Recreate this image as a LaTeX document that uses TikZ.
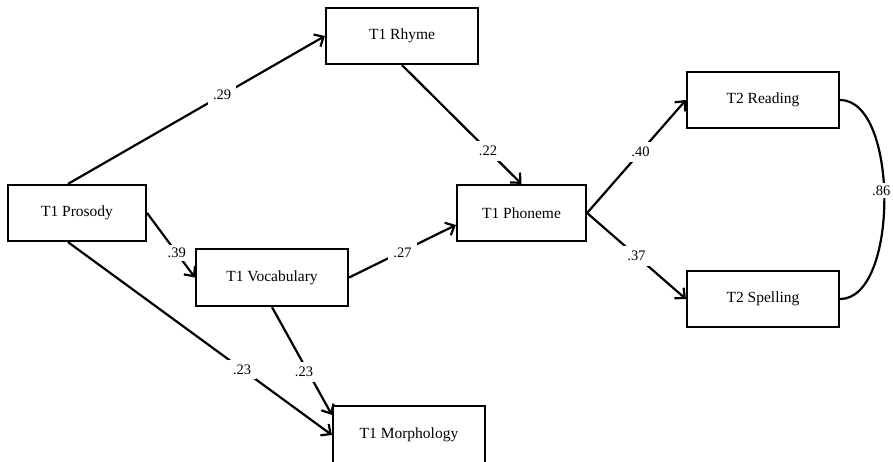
\documentclass[tikz,border=0pt]{standalone}
\usepackage{fontspec}
\setmainfont{Liberation Serif}
\usetikzlibrary{arrows.meta}
\begin{document}
\begin{tikzpicture}[x=1pt,y=-1pt,
  var/.style={draw, line width=2.2pt, minimum width=152pt, minimum height=56pt, inner sep=0pt, font=\fontsize{15.5}{18}\selectfont},
  path/.style={line width=2.2pt, -{Straight Barb[length=7.5pt,width=14pt,line width=2.2pt]}},
  coef/.style={fill=white, inner sep=5pt, font=\fontsize{14.5}{17}\selectfont}]
\useasboundingbox (0,0) rectangle (893,461);
\clip (0,0) rectangle (893,461);
\node[var] (rhyme) at (402,36) {T1 Rhyme};
\node[var, minimum width=138pt] (prosody) at (77,213) {T1 Prosody};
\node[var, minimum height=57pt] (vocab) at (272,277.5) {T1 Vocabulary};
\node[var, minimum width=129pt] (phoneme) at (521.5,213) {T1 Phoneme};
\node[var, minimum height=58pt] (morph) at (409,435) {T1 Morphology};
\node[var] (reading) at (763,100) {T2 Reading};
\node[var] (spelling) at (763,299) {T2 Spelling};

\draw[path] ([xshift=-9pt]prosody.north) -- node[coef, pos=0.6] {.29} (rhyme.west);
\draw[path] (rhyme.south) -- node[coef, pos=0.72] {.22} (phoneme.north);
\draw[path] (prosody.east) -- node[coef, pos=0.62, inner sep=3pt] {.39} (vocab.west);
\draw[path] (vocab.east) -- node[coef, pos=0.5, yshift=-2pt] {.27} ([yshift=-12pt]phoneme.west);
\draw[path] (phoneme.east) -- node[coef, pos=0.54] {.40} (reading.west);
\draw[path] (phoneme.east) -- node[coef, pos=0.5] {.37} (spelling.west);
\draw[path] ([xshift=-9pt]prosody.south) -- node[coef, pos=0.66] {.23} (morph.west);
\draw[path] (vocab.south) -- node[coef, pos=0.6, xshift=-4pt] {.23} ([yshift=-10pt]morph.north west);
\draw[line width=2.2pt] (reading.east) .. controls +(59,0) and +(59,0) .. node[coef, pos=0.47, inner sep=3pt, xshift=-3pt] {.86} (spelling.east);
\end{tikzpicture}
\end{document}
